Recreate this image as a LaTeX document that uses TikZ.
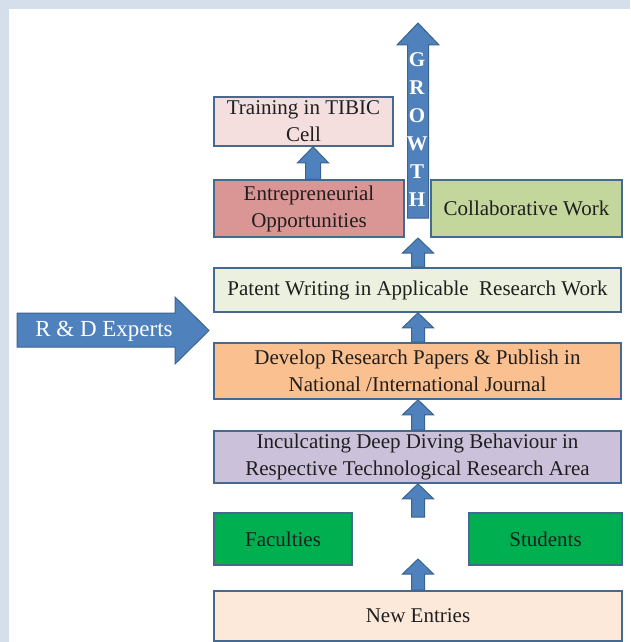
\documentclass[tikz,border=0pt]{standalone}
\usepackage{fontspec}
\setmainfont{Liberation Serif}
\usetikzlibrary{calc}

\definecolor{frameblue}{HTML}{D5DFEB}
\definecolor{boxedge}{HTML}{46698F}
\definecolor{arrowfill}{HTML}{4F81BD}
\definecolor{arrowedge}{HTML}{3A6391}
\definecolor{pinkfill}{HTML}{F4DEDE}
\definecolor{rosefill}{HTML}{D99694}
\definecolor{olivefill}{HTML}{C3D69B}
\definecolor{palegreen}{HTML}{EBF1DE}
\definecolor{orangefill}{HTML}{FAC090}
\definecolor{lilacfill}{HTML}{CCC1DA}
\definecolor{greenfill}{HTML}{00B050}
\definecolor{peachfill}{HTML}{FDE9D9}

\tikzset{
  box/.style={draw=boxedge, line width=1.6pt, align=center, inner sep=0pt,
    text=black!88, font=\fontsize{21}{27}\selectfont},
  up arrow/.style n args={3}{fill=arrowfill, draw=arrowedge, line width=1pt,
    to path={let \p1=(\tikztostart), \p2=(\tikztotarget) in
      (\x1-#1,\y1) -- (\x1-#1,\y2-#3) -- (\x1-#2,\y2-#3) -- (\x1,\y2)
      -- (\x1+#2,\y2-#3) -- (\x1+#1,\y2-#3) -- (\x1+#1,\y1) -- cycle}},
}

\begin{document}
\begin{tikzpicture}[x=1pt,y=-1pt]
  % page frame
  \fill[frameblue] (0,0) rectangle (630,642);
  \fill[white] (9,9) rectangle (630,642);
  \useasboundingbox (0,0) rectangle (630,642);

  % boxes
  \node[box, fill=pinkfill, minimum width=179pt, minimum height=49pt] (train) at (303.5,121.5) {Training in TIBIC\\Cell};
  \node[box, fill=rosefill, minimum width=190pt, minimum height=57pt] (ent) at (309,208.5) {Entrepreneurial\\Opportunities};
  \node[box, fill=olivefill, minimum width=191pt, minimum height=57pt] (collab) at (526.5,208.5) {Collaborative Work};
  \node[box, fill=palegreen, minimum width=407pt, minimum height=44pt] (patent) at (417.5,290) {Patent Writing in Applicable\ \ Research Work};
  \node[box, fill=orangefill, minimum width=407pt, minimum height=56pt] (develop) at (417.5,371) {Develop Research Papers \& Publish in\\National /International Journal};
  \node[box, fill=lilacfill, minimum width=407pt, minimum height=52pt] (incul) at (417.5,457) {Inculcating Deep Diving Behaviour in\\Respective Technological Research Area};
  \node[box, fill=greenfill, minimum width=138pt, minimum height=52pt] (fac) at (283,539) {Faculties};
  \node[box, fill=greenfill, minimum width=153pt, minimum height=52pt] (stud) at (545.5,539) {Students};
  \node[box, fill=peachfill, minimum width=408pt, minimum height=50pt] (new) at (418,616) {New Entries};

  % free ends of the vertical arrows
  \coordinate (midlow) at (418,559);
  \coordinate (midhigh) at (418,517);
  \coordinate (gap) at (418,238);
  \coordinate (gbase) at (418,218);
  \coordinate (gtip) at (418,23);
  \coordinate (tcol) at (313,0);

  % upward arrows
  \draw[up arrow={6.5pt}{15.5pt}{15pt}] (new.north -| gap) to (midlow);
  \draw[up arrow={6.5pt}{15.5pt}{15pt}] (midhigh) to (incul.south -| gap);
  \draw[up arrow={6.5pt}{15.5pt}{15pt}] (incul.north -| gap) to (develop.south -| gap);
  \draw[up arrow={6.5pt}{15.5pt}{15pt}] (develop.north -| gap) to (patent.south -| gap);
  \draw[up arrow={6.5pt}{15.5pt}{15pt}] (patent.north -| gap) to (gap);
  \draw[up arrow={7.5pt}{15.5pt}{16pt}] (ent.north -| tcol) to (train.south -| tcol);

  % growth arrow
  \draw[up arrow={10.5pt}{21pt}{22pt}] (gbase) to (gtip);
  \node[text=white, font=\fontsize{21}{28}\bfseries\selectfont, align=center, inner sep=0pt] (growth) at (417,130) {G\\R\\O\\W\\T\\H};

  % R & D experts arrow
  \fill[arrowfill, draw=arrowedge, line width=1pt]
    (17,313) -- (175,313) -- (175,297) -- (209,330.5) -- (175,364) -- (175,347) -- (17,347) -- cycle;
  \node[text=white, font=\fontsize{23}{27}\selectfont, inner sep=0pt] (rd) at (104,331) {R \& D Experts};
\end{tikzpicture}
\end{document}
